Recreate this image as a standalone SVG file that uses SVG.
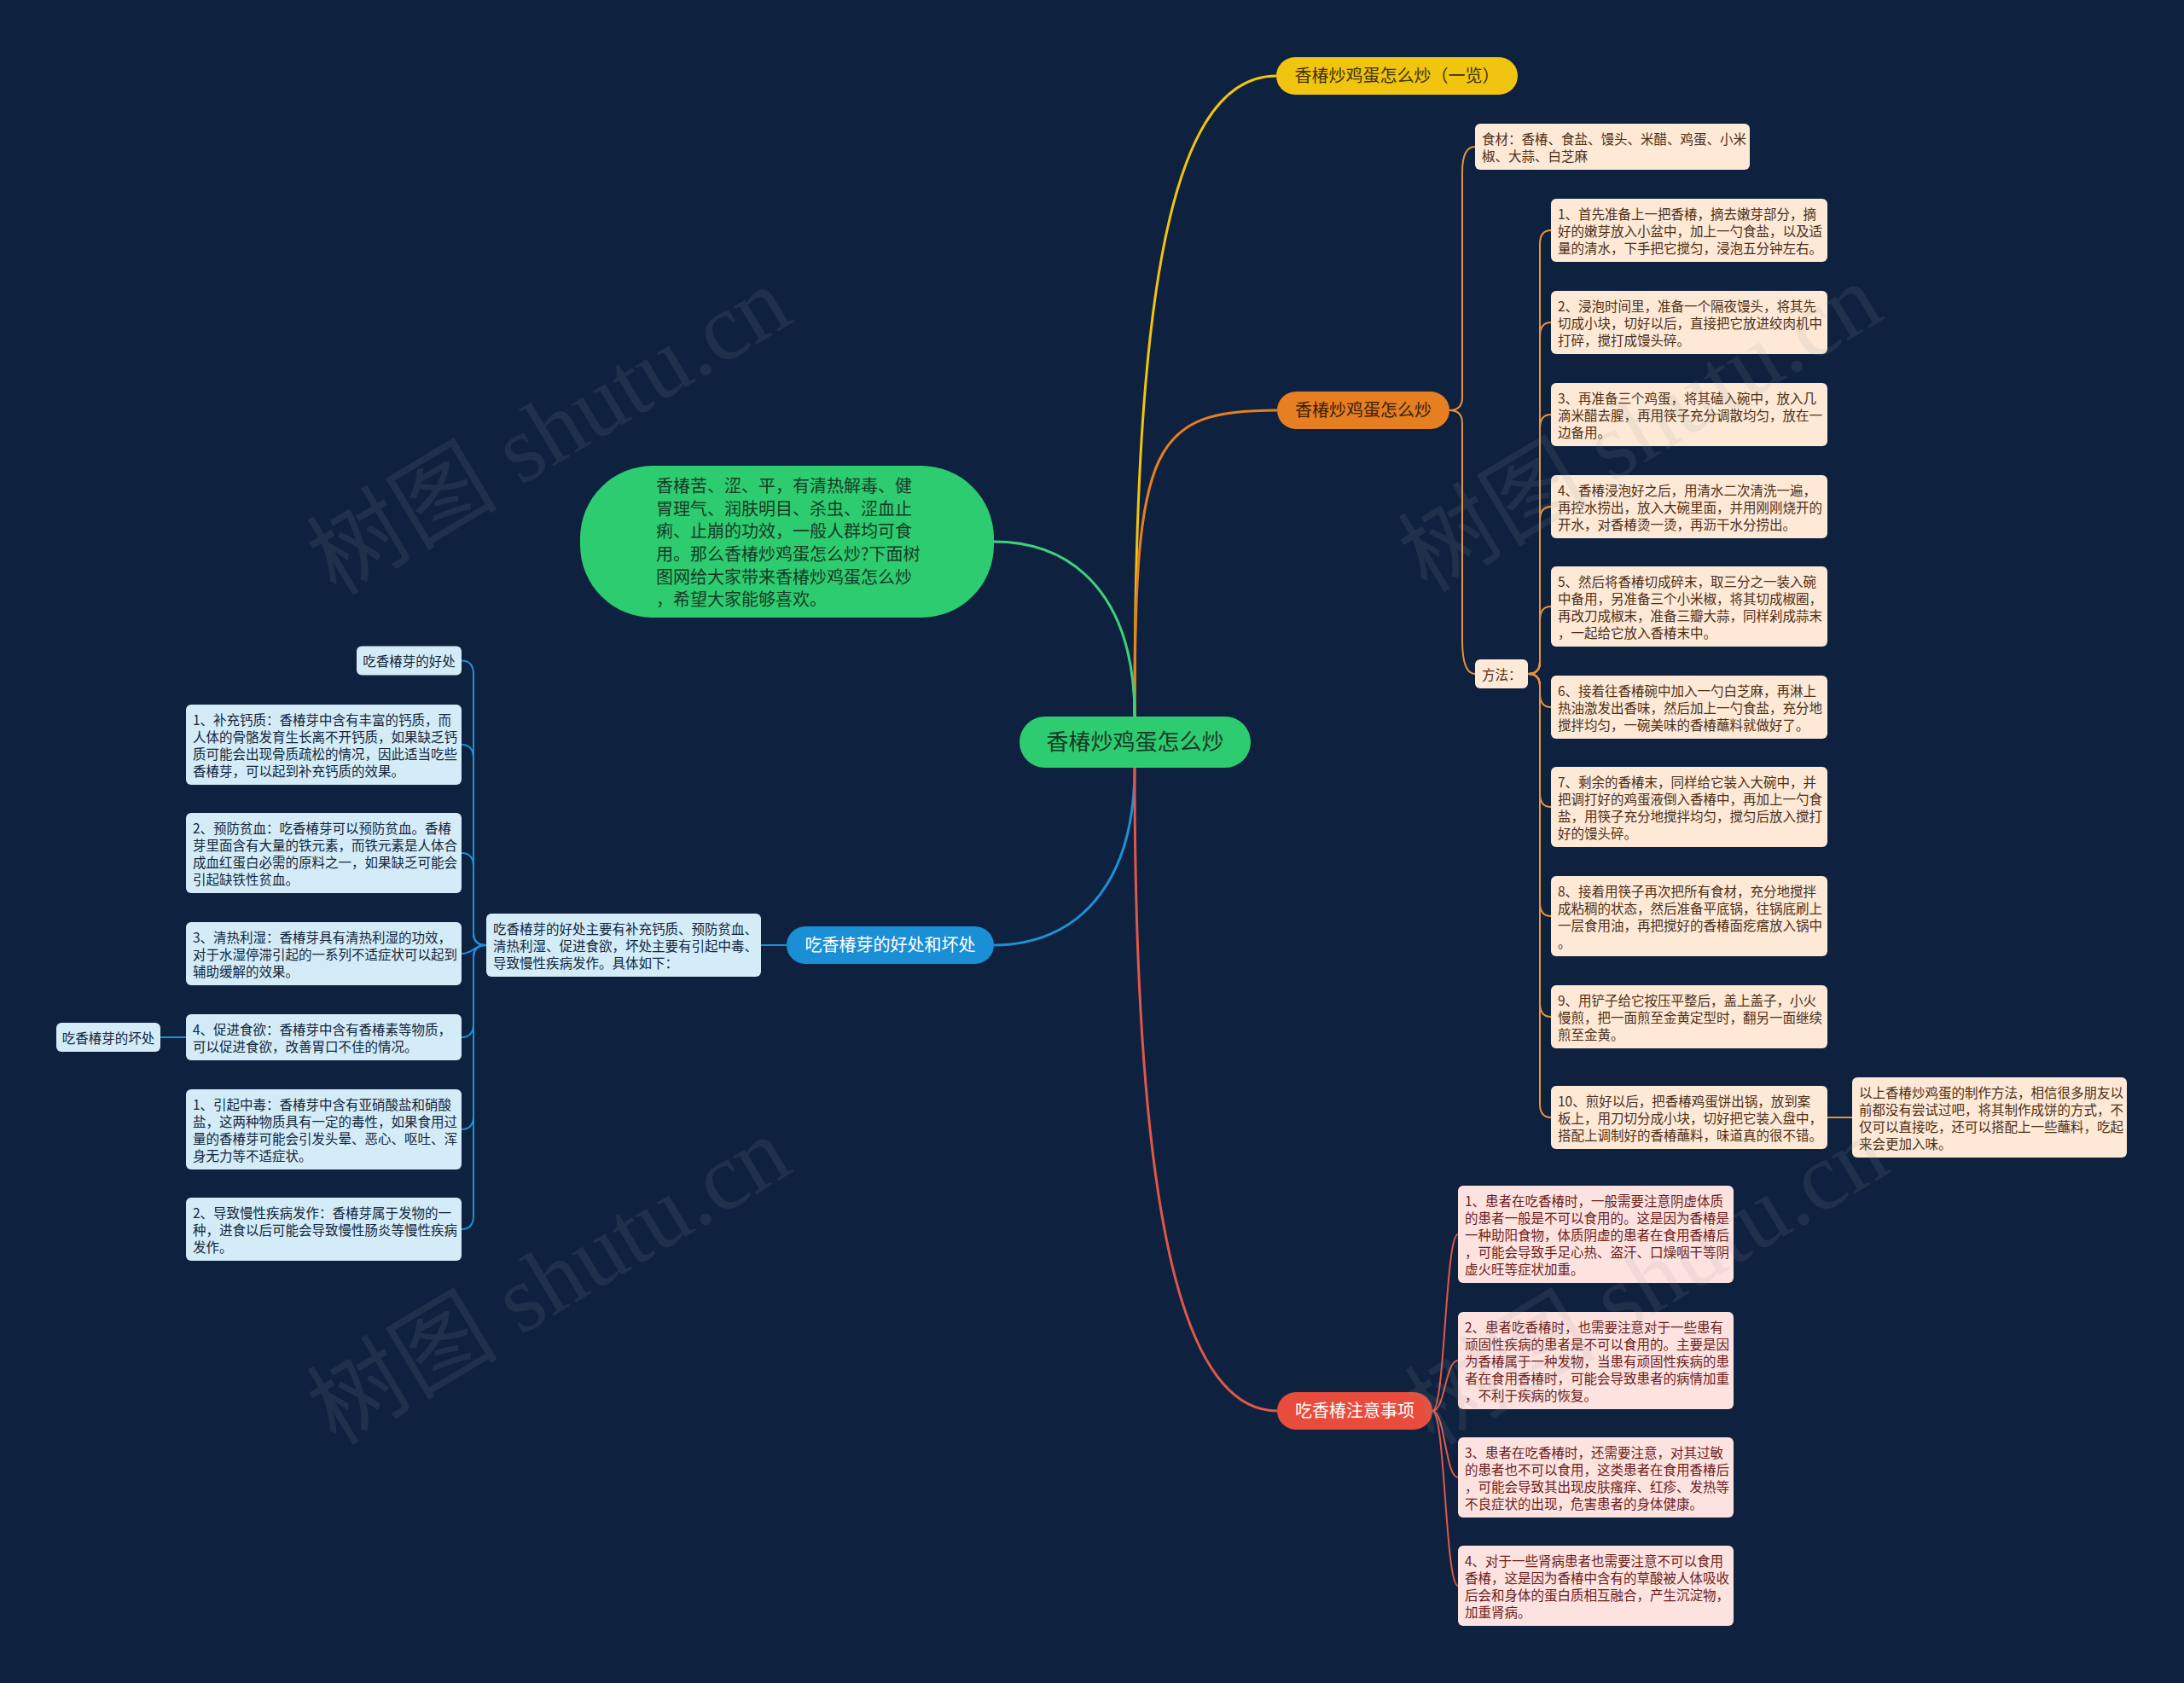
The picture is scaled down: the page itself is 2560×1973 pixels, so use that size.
<svg xmlns="http://www.w3.org/2000/svg" width="2560" height="1973" viewBox="0 0 2560 1973">
<style>
text{font-family:"Noto Sans CJK SC","Liberation Sans",sans-serif;}
.bgc{fill:#0e223f}
.peach{fill:#fde9d6}
.pink{fill:#fde3e0}
.lb{fill:#d3ecf8}
.tp{font-size:15.5px;fill:#4d2f17}
.tr{font-size:15.5px;fill:#6b1d1d}
.tb{font-size:15.5px;fill:#12263a}
.t20{font-size:20px;text-anchor:middle}
.mid{text-anchor:middle}
.c{fill:none;stroke-width:2}
.cm{fill:none;stroke-width:3}
.wm{font-family:"Liberation Serif","Noto Sans CJK SC",serif;font-size:112px;fill:#9a9a9a;opacity:0.12;text-anchor:middle}
</style>
<rect class="bgc" x="0" y="0" width="2560" height="1973"/>

<g id="connectors">
  <path class="cm" stroke="#f1c40f" d="M1330 840 C1330 400 1360 89 1496 89"/>
  <path class="cm" stroke="#e67e22" d="M1330 840 C1330 520 1350 481 1497 481"/>
  <path class="cm" stroke="#3fd17a" d="M1330 840 C1330 700 1260 635 1165 635"/>
  <path class="cm" stroke="#1e90d6" d="M1330 900 C1330 1040 1260 1108 1165 1108"/>
  <path class="cm" stroke="#e0574a" d="M1330 900 C1330 1400 1380 1654 1497 1654"/>

  <g stroke="#e8913a">
    <path class="c" d="M1699 481 Q1714 481 1714 466 L1714 202 Q1714 172 1729 172"/>
    <path class="c" d="M1699 481 Q1714 481 1714 496 L1714 750 Q1714 790 1729 790"/>
    <path class="c" d="M1791 790 Q1805 790 1805 776 L1805 286 Q1805 270 1818 270"/>
    <path class="c" d="M1791 790 Q1805 790 1805 776 L1805 394 Q1805 378 1818 378"/>
    <path class="c" d="M1791 790 Q1805 790 1805 776 L1805 502 Q1805 486 1818 486"/>
    <path class="c" d="M1791 790 Q1805 790 1805 776 L1805 610 Q1805 594 1818 594"/>
    <path class="c" d="M1791 790 Q1805 790 1805 776 L1805 727 Q1805 711 1818 711"/>
    <path class="c" d="M1791 790 Q1805 790 1805 804 L1805 813 Q1805 829 1818 829"/>
    <path class="c" d="M1791 790 Q1805 790 1805 804 L1805 930 Q1805 946 1818 946"/>
    <path class="c" d="M1791 790 Q1805 790 1805 804 L1805 1058 Q1805 1074 1818 1074"/>
    <path class="c" d="M1791 790 Q1805 790 1805 804 L1805 1176 Q1805 1192 1818 1192"/>
    <path class="c" d="M1791 790 Q1805 790 1805 804 L1805 1294 Q1805 1310 1818 1310"/>
    <path class="c" d="M2142 1310 L2171 1310"/>
  </g>

  <g stroke="#e0574a">
    <path class="c" d="M1679 1654 C1694 1654 1694 1447 1709 1447"/>
    <path class="c" d="M1679 1654 C1694 1654 1694 1595 1709 1595"/>
    <path class="c" d="M1679 1654 C1694 1654 1694 1732 1709 1732"/>
    <path class="c" d="M1679 1654 C1694 1654 1694 1859 1709 1859"/>
  </g>

  <g stroke="#1e90d6">
    <path class="c" d="M922 1108 L892 1108"/>
    <path class="c" d="M570 1108 Q555 1108 555 1094 L555 790.5 Q555 774.5 541 774.5"/>
    <path class="c" d="M570 1108 Q555 1108 555 1094 L555 889 Q555 873 541 873"/>
    <path class="c" d="M570 1108 Q555 1108 555 1094 L555 1016 Q555 1000 541 1000"/>
    <path class="c" d="M570 1108 C555 1108 555 1118 541 1118"/>
    <path class="c" d="M570 1108 Q555 1108 555 1122 L555 1200 Q555 1216 541 1216"/>
    <path class="c" d="M570 1108 Q555 1108 555 1122 L555 1308 Q555 1324 541 1324"/>
    <path class="c" d="M570 1108 Q555 1108 555 1122 L555 1425 Q555 1441 541 1441"/>
    <path class="c" d="M218 1216 L188 1216"/>
  </g>
</g>

<g id="n-root">
  <rect x="1195" y="840" width="271" height="60" rx="30" fill="#2ecc71"/>
  <text x="1330.5" y="879" class="mid" style="font-size:26px;fill:#163a24">香椿炒鸡蛋怎么炒</text>
</g>

<g id="n-yellow">
  <rect x="1496" y="67" width="283" height="44" rx="22" fill="#f1c40f"/>
  <text x="1637.5" y="96" class="t20" fill="#3d3208">香椿炒鸡蛋怎么炒（一览）</text>
</g>

<g id="n-orange">
  <rect x="1497" y="459" width="202" height="44" rx="22" fill="#e67e22"/>
  <text x="1598" y="488" class="t20" fill="#3a1d05">香椿炒鸡蛋怎么炒</text>
</g>

<g id="n-red">
  <rect x="1497" y="1632" width="182" height="44" rx="22" fill="#e74c3c"/>
  <text x="1588" y="1661" class="t20" fill="#ffffff">吃香椿注意事项</text>
</g>

<g id="n-blue">
  <rect x="922" y="1086" width="243" height="44" rx="22" fill="#1b8fd6"/>
  <text x="1043.5" y="1115" class="t20" fill="#ffffff">吃香椿芽的好处和坏处</text>
</g>

<g id="n-intro">
  <rect x="680" y="546" width="485" height="178" rx="85" fill="#2ecc71"/>
  <text x="769" y="577" style="font-size:20px;fill:#163a24">
    <tspan x="769">香椿苦、涩、平，有清热解毒、健</tspan>
    <tspan x="769" dy="26.67">胃理气、润肤明目、杀虫、涩血止</tspan>
    <tspan x="769" dy="26.67">痢、止崩的功效，一般人群均可食</tspan>
    <tspan x="769" dy="26.67">用。那么香椿炒鸡蛋怎么炒?下面树</tspan>
    <tspan x="769" dy="26.67">图网给大家带来香椿炒鸡蛋怎么炒</tspan>
    <tspan x="769" dy="26.67">，希望大家能够喜欢。</tspan>
  </text>
</g>

<g id="n-ingredients">
  <rect x="1729" y="145" width="322" height="54" rx="6" class="peach"/>
  <text x="1737" y="169" class="tp"><tspan x="1737">食材：香椿、食盐、馒头、米醋、鸡蛋、小米</tspan><tspan x="1737" dy="20">椒、大蒜、白芝麻</tspan></text>
</g>

<g id="n-method">
  <rect x="1729" y="773" width="62" height="34" rx="6" class="peach"/>
  <text x="1737" y="797" class="tp">方法：</text>
</g>

<g id="n-step1">
  <rect x="1818" y="233" width="324" height="74" rx="6" class="peach"/>
  <text x="1826" y="257" class="tp"><tspan x="1826">1、首先准备上一把香椿，摘去嫩芽部分，摘</tspan><tspan x="1826" dy="20">好的嫩芽放入小盆中，加上一勺食盐，以及适</tspan><tspan x="1826" dy="20">量的清水，下手把它搅匀，浸泡五分钟左右。</tspan></text>
</g>
<g id="n-step2">
  <rect x="1818" y="341" width="324" height="74" rx="6" class="peach"/>
  <text x="1826" y="365" class="tp"><tspan x="1826">2、浸泡时间里，准备一个隔夜馒头，将其先</tspan><tspan x="1826" dy="20">切成小块，切好以后，直接把它放进绞肉机中</tspan><tspan x="1826" dy="20">打碎，搅打成馒头碎。</tspan></text>
</g>
<g id="n-step3">
  <rect x="1818" y="449" width="324" height="74" rx="6" class="peach"/>
  <text x="1826" y="473" class="tp"><tspan x="1826">3、再准备三个鸡蛋，将其磕入碗中，放入几</tspan><tspan x="1826" dy="20">滴米醋去腥，再用筷子充分调散均匀，放在一</tspan><tspan x="1826" dy="20">边备用。</tspan></text>
</g>
<g id="n-step4">
  <rect x="1818" y="557" width="324" height="74" rx="6" class="peach"/>
  <text x="1826" y="581" class="tp"><tspan x="1826">4、香椿浸泡好之后，用清水二次清洗一遍，</tspan><tspan x="1826" dy="20">再控水捞出，放入大碗里面，并用刚刚烧开的</tspan><tspan x="1826" dy="20">开水，对香椿烫一烫，再沥干水分捞出。</tspan></text>
</g>
<g id="n-step5">
  <rect x="1818" y="664" width="324" height="94" rx="6" class="peach"/>
  <text x="1826" y="688" class="tp"><tspan x="1826">5、然后将香椿切成碎末，取三分之一装入碗</tspan><tspan x="1826" dy="20">中备用，另准备三个小米椒，将其切成椒圈，</tspan><tspan x="1826" dy="20">再改刀成椒末，准备三瓣大蒜，同样剁成蒜末</tspan><tspan x="1826" dy="20">，一起给它放入香椿末中。</tspan></text>
</g>
<g id="n-step6">
  <rect x="1818" y="792" width="324" height="74" rx="6" class="peach"/>
  <text x="1826" y="816" class="tp"><tspan x="1826">6、接着往香椿碗中加入一勺白芝麻，再淋上</tspan><tspan x="1826" dy="20">热油激发出香味，然后加上一勺食盐，充分地</tspan><tspan x="1826" dy="20">搅拌均匀，一碗美味的香椿蘸料就做好了。</tspan></text>
</g>
<g id="n-step7">
  <rect x="1818" y="899" width="324" height="94" rx="6" class="peach"/>
  <text x="1826" y="923" class="tp"><tspan x="1826">7、剩余的香椿末，同样给它装入大碗中，并</tspan><tspan x="1826" dy="20">把调打好的鸡蛋液倒入香椿中，再加上一勺食</tspan><tspan x="1826" dy="20">盐，用筷子充分地搅拌均匀，搅匀后放入搅打</tspan><tspan x="1826" dy="20">好的馒头碎。</tspan></text>
</g>
<g id="n-step8">
  <rect x="1818" y="1027" width="324" height="94" rx="6" class="peach"/>
  <text x="1826" y="1051" class="tp"><tspan x="1826">8、接着用筷子再次把所有食材，充分地搅拌</tspan><tspan x="1826" dy="20">成粘稠的状态，然后准备平底锅，往锅底刷上</tspan><tspan x="1826" dy="20">一层食用油，再把搅好的香椿面疙瘩放入锅中</tspan><tspan x="1826" dy="20">。</tspan></text>
</g>
<g id="n-step9">
  <rect x="1818" y="1155" width="324" height="74" rx="6" class="peach"/>
  <text x="1826" y="1179" class="tp"><tspan x="1826">9、用铲子给它按压平整后，盖上盖子，小火</tspan><tspan x="1826" dy="20">慢煎，把一面煎至金黄定型时，翻另一面继续</tspan><tspan x="1826" dy="20">煎至金黄。</tspan></text>
</g>
<g id="n-step10">
  <rect x="1818" y="1273" width="324" height="74" rx="6" class="peach"/>
  <text x="1826" y="1297" class="tp"><tspan x="1826">10、煎好以后，把香椿鸡蛋饼出锅，放到案</tspan><tspan x="1826" dy="20">板上，用刀切分成小块，切好把它装入盘中，</tspan><tspan x="1826" dy="20">搭配上调制好的香椿蘸料，味道真的很不错。</tspan></text>
</g>
<g id="n-summary">
  <rect x="2171" y="1263" width="322" height="94" rx="6" class="peach"/>
  <text x="2179" y="1287" class="tp"><tspan x="2179">以上香椿炒鸡蛋的制作方法，相信很多朋友以</tspan><tspan x="2179" dy="20">前都没有尝试过吧，将其制作成饼的方式，不</tspan><tspan x="2179" dy="20">仅可以直接吃，还可以搭配上一些蘸料，吃起</tspan><tspan x="2179" dy="20">来会更加入味。</tspan></text>
</g>

<g id="n-note1">
  <rect x="1709" y="1390" width="323" height="114" rx="6" class="pink"/>
  <text x="1717" y="1414" class="tr"><tspan x="1717">1、患者在吃香椿时，一般需要注意阴虚体质</tspan><tspan x="1717" dy="20">的患者一般是不可以食用的。这是因为香椿是</tspan><tspan x="1717" dy="20">一种助阳食物，体质阴虚的患者在食用香椿后</tspan><tspan x="1717" dy="20">，可能会导致手足心热、盗汗、口燥咽干等阴</tspan><tspan x="1717" dy="20">虚火旺等症状加重。</tspan></text>
</g>
<g id="n-note2">
  <rect x="1709" y="1538" width="323" height="114" rx="6" class="pink"/>
  <text x="1717" y="1562" class="tr"><tspan x="1717">2、患者吃香椿时，也需要注意对于一些患有</tspan><tspan x="1717" dy="20">顽固性疾病的患者是不可以食用的。主要是因</tspan><tspan x="1717" dy="20">为香椿属于一种发物，当患有顽固性疾病的患</tspan><tspan x="1717" dy="20">者在食用香椿时，可能会导致患者的病情加重</tspan><tspan x="1717" dy="20">，不利于疾病的恢复。</tspan></text>
</g>
<g id="n-note3">
  <rect x="1709" y="1685" width="323" height="94" rx="6" class="pink"/>
  <text x="1717" y="1709" class="tr"><tspan x="1717">3、患者在吃香椿时，还需要注意，对其过敏</tspan><tspan x="1717" dy="20">的患者也不可以食用，这类患者在食用香椿后</tspan><tspan x="1717" dy="20">，可能会导致其出现皮肤瘙痒、红疹、发热等</tspan><tspan x="1717" dy="20">不良症状的出现，危害患者的身体健康。</tspan></text>
</g>
<g id="n-note4">
  <rect x="1709" y="1812" width="323" height="94" rx="6" class="pink"/>
  <text x="1717" y="1836" class="tr"><tspan x="1717">4、对于一些肾病患者也需要注意不可以食用</tspan><tspan x="1717" dy="20">香椿，这是因为香椿中含有的草酸被人体吸收</tspan><tspan x="1717" dy="20">后会和身体的蛋白质相互融合，产生沉淀物，</tspan><tspan x="1717" dy="20">加重肾病。</tspan></text>
</g>

<g id="n-bsummary">
  <rect x="570" y="1071" width="322" height="74" rx="6" class="lb"/>
  <text x="578" y="1095" class="tb"><tspan x="578">吃香椿芽的好处主要有补充钙质、预防贫血、</tspan><tspan x="578" dy="20">清热利湿、促进食欲，坏处主要有引起中毒、</tspan><tspan x="578" dy="20">导致慢性疾病发作。具体如下：</tspan></text>
</g>
<g id="n-good">
  <rect x="418" y="757.5" width="123" height="34" rx="6" class="lb"/>
  <text x="479.5" y="781" class="tb mid">吃香椿芽的好处</text>
</g>
<g id="n-b1">
  <rect x="218" y="826" width="323" height="94" rx="6" class="lb"/>
  <text x="226" y="850" class="tb"><tspan x="226">1、补充钙质：香椿芽中含有丰富的钙质，而</tspan><tspan x="226" dy="20">人体的骨骼发育生长离不开钙质，如果缺乏钙</tspan><tspan x="226" dy="20">质可能会出现骨质疏松的情况，因此适当吃些</tspan><tspan x="226" dy="20">香椿芽，可以起到补充钙质的效果。</tspan></text>
</g>
<g id="n-b2">
  <rect x="218" y="953" width="323" height="94" rx="6" class="lb"/>
  <text x="226" y="977" class="tb"><tspan x="226">2、预防贫血：吃香椿芽可以预防贫血。香椿</tspan><tspan x="226" dy="20">芽里面含有大量的铁元素，而铁元素是人体合</tspan><tspan x="226" dy="20">成血红蛋白必需的原料之一，如果缺乏可能会</tspan><tspan x="226" dy="20">引起缺铁性贫血。</tspan></text>
</g>
<g id="n-b3">
  <rect x="218" y="1081" width="323" height="74" rx="6" class="lb"/>
  <text x="226" y="1105" class="tb"><tspan x="226">3、清热利湿：香椿芽具有清热利湿的功效，</tspan><tspan x="226" dy="20">对于水湿停滞引起的一系列不适症状可以起到</tspan><tspan x="226" dy="20">辅助缓解的效果。</tspan></text>
</g>
<g id="n-b4">
  <rect x="218" y="1189" width="323" height="54" rx="6" class="lb"/>
  <text x="226" y="1213" class="tb"><tspan x="226">4、促进食欲：香椿芽中含有香椿素等物质，</tspan><tspan x="226" dy="20">可以促进食欲，改善胃口不佳的情况。</tspan></text>
</g>
<g id="n-bad">
  <rect x="66" y="1199" width="122" height="34" rx="6" class="lb"/>
  <text x="127" y="1223" class="tb mid">吃香椿芽的坏处</text>
</g>
<g id="n-b5">
  <rect x="218" y="1277" width="323" height="94" rx="6" class="lb"/>
  <text x="226" y="1301" class="tb"><tspan x="226">1、引起中毒：香椿芽中含有亚硝酸盐和硝酸</tspan><tspan x="226" dy="20">盐，这两种物质具有一定的毒性，如果食用过</tspan><tspan x="226" dy="20">量的香椿芽可能会引发头晕、恶心、呕吐、浑</tspan><tspan x="226" dy="20">身无力等不适症状。</tspan></text>
</g>
<g id="n-b6">
  <rect x="218" y="1404" width="323" height="74" rx="6" class="lb"/>
  <text x="226" y="1428" class="tb"><tspan x="226">2、导致慢性疾病发作：香椿芽属于发物的一</tspan><tspan x="226" dy="20">种，进食以后可能会导致慢性肠炎等慢性疾病</tspan><tspan x="226" dy="20">发作。</tspan></text>
</g>

<g id="watermarks">
  <text class="wm" transform="translate(663 538) rotate(-31)">树图 shutu.cn</text>
  <text class="wm" transform="translate(663 1534) rotate(-31)">树图 shutu.cn</text>
  <text class="wm" transform="translate(1942 534) rotate(-31)">树图 shutu.cn</text>
  <text class="wm" transform="translate(1950 1534) rotate(-31)">树图 shutu.cn</text>
</g>
</svg>
